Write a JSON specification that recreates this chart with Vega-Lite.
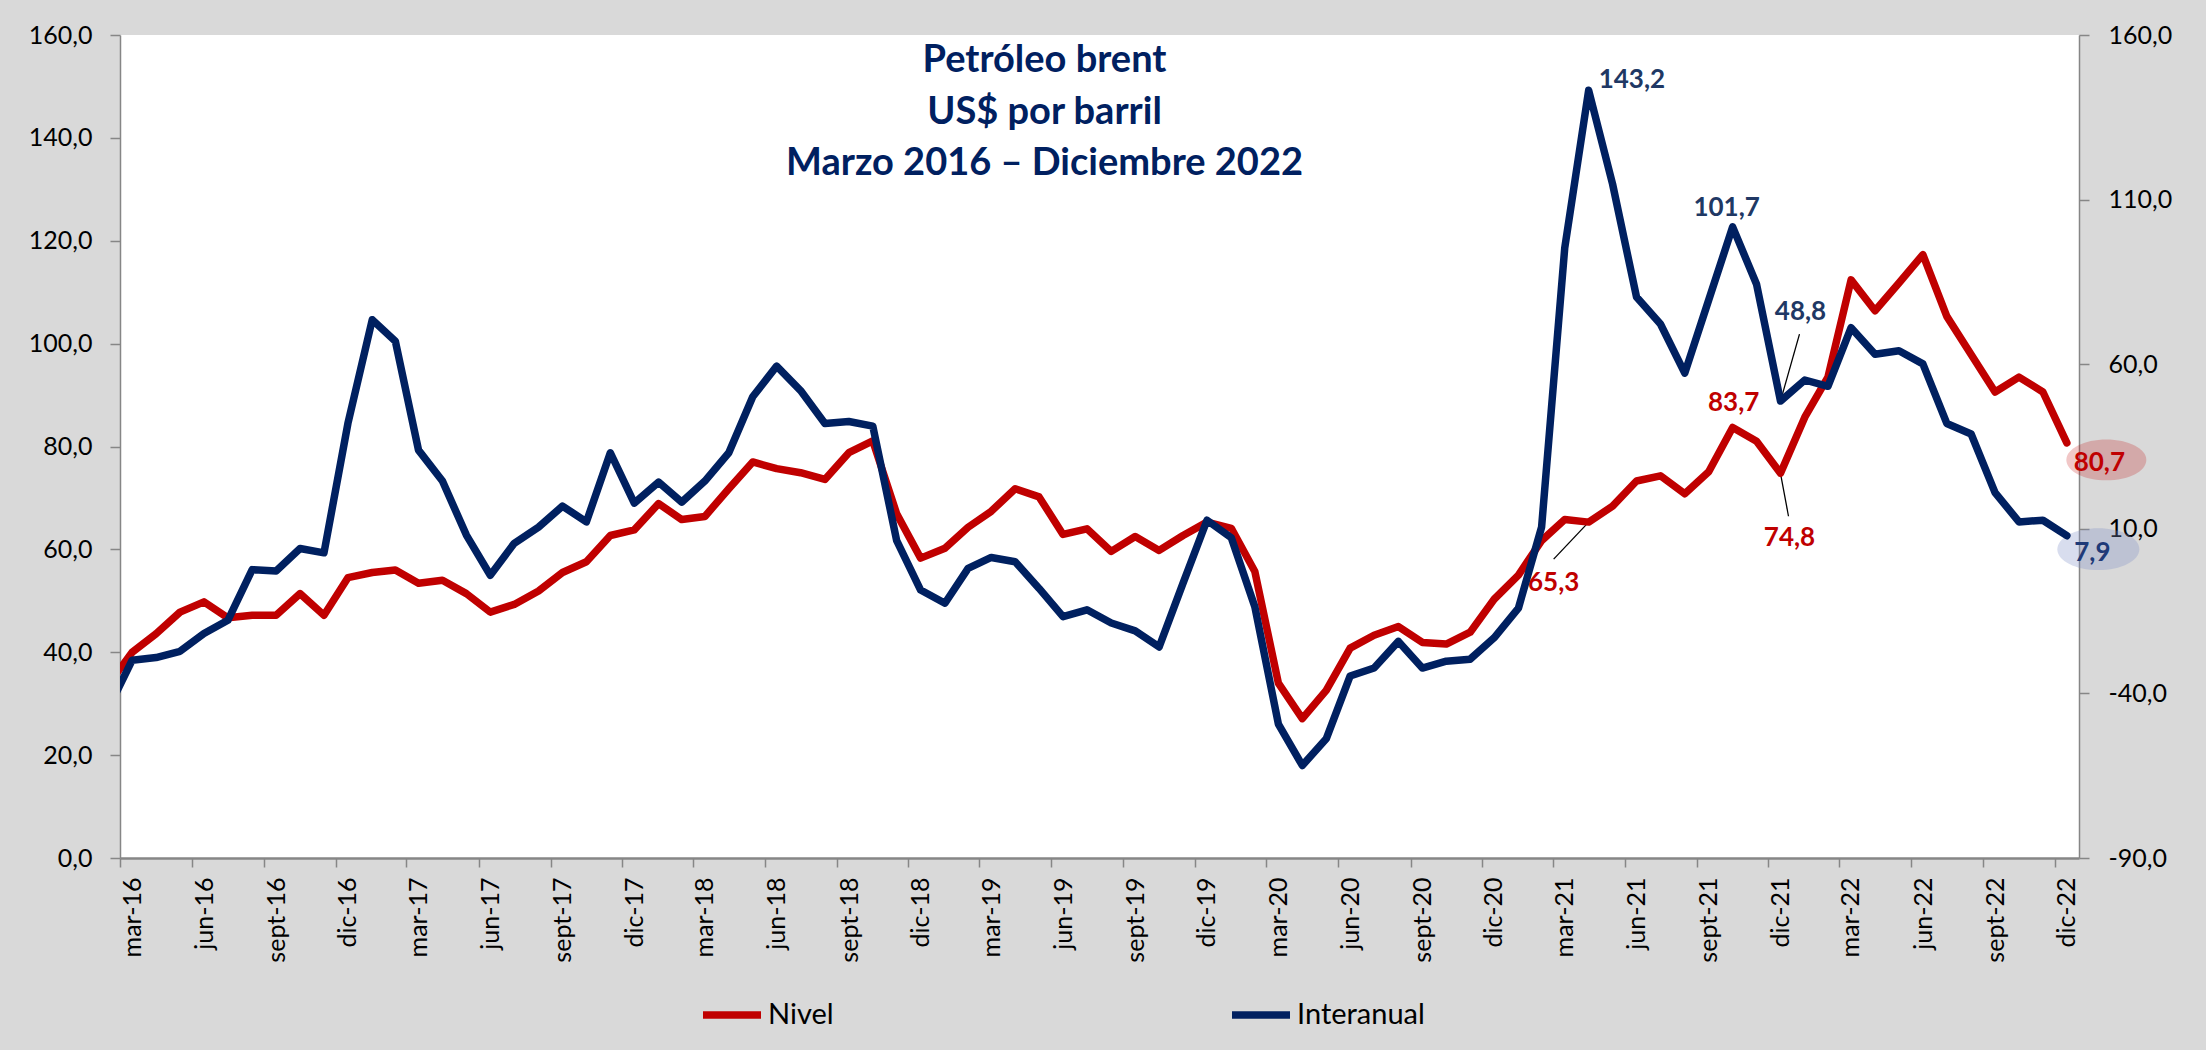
{
  "$schema": "https://vega.github.io/schema/vega-lite/v6.json",
  "width": 1959,
  "height": 823,
  "autosize": {"type": "none"},
  "padding": {"left": 120, "top": 35, "right": 127, "bottom": 192},
  "background": "#d9d9d9",
  "config": {
    "font": "Lato",
    "view": {"fill": "white", "stroke": null},
    "locale": {"number": {"decimal": ",", "thousands": ".", "grouping": [3], "currency": ["", ""], "minus": "-"}},
    "axis": {"labelFont": "Lato", "labelFontSize": 25, "labelColor": "black", "domainColor": "#868686", "tickColor": "#868686", "grid": false}
  },
  "title": {
    "text": ["Petróleo brent", "US$ por barril", "Marzo 2016 – Diciembre 2022"],
    "anchor": "middle", "frame": "group", "orient": "top",
    "font": "Lato", "fontSize": 38, "fontWeight": "bold", "color": "#002060",
    "lineHeight": 51.5, "offset": -160, "dx": -55, "baseline": "top"
  },
  "datasets": {
    "serie": [
      {"mes": "2016-02-01", "nivel": 33.8, "interanual": -44.5},
      {"mes": "2016-03-01", "nivel": 40.0, "interanual": -29.9},
      {"mes": "2016-04-01", "nivel": 43.6, "interanual": -29.1},
      {"mes": "2016-05-01", "nivel": 47.8, "interanual": -27.2},
      {"mes": "2016-06-01", "nivel": 49.8, "interanual": -21.8},
      {"mes": "2016-07-01", "nivel": 46.7, "interanual": -17.8},
      {"mes": "2016-08-01", "nivel": 47.2, "interanual": -2.4},
      {"mes": "2016-09-01", "nivel": 47.2, "interanual": -2.8},
      {"mes": "2016-10-01", "nivel": 51.4, "interanual": 4.0},
      {"mes": "2016-11-01", "nivel": 47.2, "interanual": 2.7},
      {"mes": "2016-12-01", "nivel": 54.5, "interanual": 42.0},
      {"mes": "2017-01-01", "nivel": 55.5, "interanual": 73.5},
      {"mes": "2017-02-01", "nivel": 56.0, "interanual": 67.0},
      {"mes": "2017-03-01", "nivel": 53.4, "interanual": 33.9},
      {"mes": "2017-04-01", "nivel": 54.0, "interanual": 24.5},
      {"mes": "2017-05-01", "nivel": 51.4, "interanual": 8.1},
      {"mes": "2017-06-01", "nivel": 47.8, "interanual": -4.1},
      {"mes": "2017-07-01", "nivel": 49.3, "interanual": 5.6},
      {"mes": "2017-08-01", "nivel": 51.9, "interanual": 10.5},
      {"mes": "2017-09-01", "nivel": 55.5, "interanual": 16.9},
      {"mes": "2017-10-01", "nivel": 57.6, "interanual": 12.1},
      {"mes": "2017-11-01", "nivel": 62.7, "interanual": 33.1},
      {"mes": "2017-12-01", "nivel": 63.8, "interanual": 17.8},
      {"mes": "2018-01-01", "nivel": 68.9, "interanual": 24.2},
      {"mes": "2018-02-01", "nivel": 65.8, "interanual": 18.1},
      {"mes": "2018-03-01", "nivel": 66.4, "interanual": 24.5},
      {"mes": "2018-04-01", "nivel": 71.8, "interanual": 33.1},
      {"mes": "2018-05-01", "nivel": 77.0, "interanual": 50.1},
      {"mes": "2018-06-01", "nivel": 75.7, "interanual": 59.4},
      {"mes": "2018-07-01", "nivel": 74.9, "interanual": 52.0},
      {"mes": "2018-08-01", "nivel": 73.6, "interanual": 42.0},
      {"mes": "2018-09-01", "nivel": 78.8, "interanual": 42.6},
      {"mes": "2018-10-01", "nivel": 81.1, "interanual": 41.2},
      {"mes": "2018-11-01", "nivel": 66.9, "interanual": 6.4},
      {"mes": "2018-12-01", "nivel": 58.3, "interanual": -8.6},
      {"mes": "2019-01-01", "nivel": 60.2, "interanual": -12.6},
      {"mes": "2019-02-01", "nivel": 64.3, "interanual": -2.0},
      {"mes": "2019-03-01", "nivel": 67.4, "interanual": 1.3},
      {"mes": "2019-04-01", "nivel": 71.8, "interanual": 0.0},
      {"mes": "2019-05-01", "nivel": 70.2, "interanual": -8.1},
      {"mes": "2019-06-01", "nivel": 62.9, "interanual": -16.7},
      {"mes": "2019-07-01", "nivel": 64.0, "interanual": -14.6},
      {"mes": "2019-08-01", "nivel": 59.6, "interanual": -18.6},
      {"mes": "2019-09-01", "nivel": 62.5, "interanual": -21.0},
      {"mes": "2019-10-01", "nivel": 59.8, "interanual": -25.9},
      {"mes": "2019-11-01", "nivel": 62.7, "interanual": -6.5},
      {"mes": "2019-12-01", "nivel": 65.3, "interanual": 12.6},
      {"mes": "2020-01-01", "nivel": 64.1, "interanual": 7.3},
      {"mes": "2020-02-01", "nivel": 55.7, "interanual": -13.7},
      {"mes": "2020-03-01", "nivel": 34.0, "interanual": -49.3},
      {"mes": "2020-04-01", "nivel": 27.1, "interanual": -61.9},
      {"mes": "2020-05-01", "nivel": 32.6, "interanual": -53.8},
      {"mes": "2020-06-01", "nivel": 40.8, "interanual": -34.7},
      {"mes": "2020-07-01", "nivel": 43.3, "interanual": -32.3},
      {"mes": "2020-08-01", "nivel": 45.0, "interanual": -24.2},
      {"mes": "2020-09-01", "nivel": 41.9, "interanual": -32.3},
      {"mes": "2020-10-01", "nivel": 41.6, "interanual": -30.2},
      {"mes": "2020-11-01", "nivel": 43.9, "interanual": -29.6},
      {"mes": "2020-12-01", "nivel": 50.3, "interanual": -23.1},
      {"mes": "2021-01-01", "nivel": 55.0, "interanual": -14.1},
      {"mes": "2021-02-01", "nivel": 61.7, "interanual": 10.5},
      {"mes": "2021-03-01", "nivel": 65.8, "interanual": 95.3},
      {"mes": "2021-04-01", "nivel": 65.3, "interanual": 143.2},
      {"mes": "2021-05-01", "nivel": 68.4, "interanual": 114.7},
      {"mes": "2021-06-01", "nivel": 73.3, "interanual": 80.4},
      {"mes": "2021-07-01", "nivel": 74.3, "interanual": 72.2},
      {"mes": "2021-08-01", "nivel": 70.8, "interanual": 57.3},
      {"mes": "2021-09-01", "nivel": 75.1, "interanual": 79.5},
      {"mes": "2021-10-01", "nivel": 83.7, "interanual": 101.7},
      {"mes": "2021-11-01", "nivel": 81.0, "interanual": 84.3},
      {"mes": "2021-12-01", "nivel": 74.8, "interanual": 48.8},
      {"mes": "2022-01-01", "nivel": 85.7, "interanual": 55.2},
      {"mes": "2022-02-01", "nivel": 93.5, "interanual": 53.3},
      {"mes": "2022-03-01", "nivel": 112.4, "interanual": 71.1},
      {"mes": "2022-04-01", "nivel": 106.4, "interanual": 63.0},
      {"mes": "2022-05-01", "nivel": 111.8, "interanual": 64.1},
      {"mes": "2022-06-01", "nivel": 117.3, "interanual": 60.1},
      {"mes": "2022-07-01", "nivel": 105.3, "interanual": 42.0},
      {"mes": "2022-08-01", "nivel": 97.9, "interanual": 38.8},
      {"mes": "2022-09-01", "nivel": 90.6, "interanual": 21.0},
      {"mes": "2022-10-01", "nivel": 93.5, "interanual": 12.1},
      {"mes": "2022-11-01", "nivel": 90.6, "interanual": 12.6},
      {"mes": "2022-12-01", "nivel": 80.7, "interanual": 7.9}
    ],
    "notas": [
      {"mes": "2021-04-01", "nivel": 65.3, "texto": "65,3"},
      {"mes": "2021-10-01", "nivel": 83.7, "texto": "83,7"},
      {"mes": "2021-12-01", "nivel": 74.8, "texto": "74,8"},
      {"mes": "2022-12-01", "nivel": 80.7, "texto": "80,7"},
      {"mes": "2021-04-01", "interanual": 143.2, "texto": "143,2"},
      {"mes": "2021-10-01", "interanual": 101.7, "texto": "101,7"},
      {"mes": "2021-12-01", "interanual": 48.8, "texto": "48,8"},
      {"mes": "2022-12-01", "interanual": 7.9, "texto": "7,9"}
    ]
  },
  "data": {"name": "serie"},
  "encoding": {
    "x": {
      "field": "mes", "type": "temporal", "timeUnit": "utcyearmonth", "bandPosition": 0.5,
      "scale": {"domain": [{"year": 2016, "month": 3, "date": 1, "utc": true}, {"year": 2023, "month": 1, "date": 1, "utc": true}]},
      "axis": {
        "title": null,
        "values": [
          {"year": 2016, "month": 3, "date": 1, "utc": true}, {"year": 2016, "month": 6, "date": 1, "utc": true}, {"year": 2016, "month": 9, "date": 1, "utc": true}, {"year": 2016, "month": 12, "date": 1, "utc": true},
          {"year": 2017, "month": 3, "date": 1, "utc": true}, {"year": 2017, "month": 6, "date": 1, "utc": true}, {"year": 2017, "month": 9, "date": 1, "utc": true}, {"year": 2017, "month": 12, "date": 1, "utc": true},
          {"year": 2018, "month": 3, "date": 1, "utc": true}, {"year": 2018, "month": 6, "date": 1, "utc": true}, {"year": 2018, "month": 9, "date": 1, "utc": true}, {"year": 2018, "month": 12, "date": 1, "utc": true},
          {"year": 2019, "month": 3, "date": 1, "utc": true}, {"year": 2019, "month": 6, "date": 1, "utc": true}, {"year": 2019, "month": 9, "date": 1, "utc": true}, {"year": 2019, "month": 12, "date": 1, "utc": true},
          {"year": 2020, "month": 3, "date": 1, "utc": true}, {"year": 2020, "month": 6, "date": 1, "utc": true}, {"year": 2020, "month": 9, "date": 1, "utc": true}, {"year": 2020, "month": 12, "date": 1, "utc": true},
          {"year": 2021, "month": 3, "date": 1, "utc": true}, {"year": 2021, "month": 6, "date": 1, "utc": true}, {"year": 2021, "month": 9, "date": 1, "utc": true}, {"year": 2021, "month": 12, "date": 1, "utc": true},
          {"year": 2022, "month": 3, "date": 1, "utc": true}, {"year": 2022, "month": 6, "date": 1, "utc": true}, {"year": 2022, "month": 9, "date": 1, "utc": true}, {"year": 2022, "month": 12, "date": 1, "utc": true}
        ],
        "labelExpr": "['ene','feb','mar','abr','may','jun','jul','ago','sept','oct','nov','dic'][utcmonth(datum.value)] + '-' + utcFormat(datum.value, '%y')",
        "labelAngle": -90, "labelAlign": "right", "labelBaseline": "top",
        "labelPadding": 10, "labelFlush": false, "labelOverlap": false, "labelBound": false,
        "tickSize": 9, "tickWidth": 1.5, "domainWidth": 2.5, "grid": false
      }
    }
  },
  "layer": [
    {
      "encoding": {
        "y": {
          "field": "nivel", "type": "quantitative",
          "scale": {"domain": [0, 160], "nice": false, "zero": false},
          "axis": {"orient": "left", "title": null, "values": [0, 20, 40, 60, 80, 100, 120, 140, 160], "format": ".1f", "tickSize": 10, "tickWidth": 1.5, "domainWidth": 1.5, "labelPadding": 18, "grid": false}
        }
      },
      "layer": [
        {
          "data": {"name": "notas"}, "transform": [{"filter": "datum.texto == '80,7'"}],
          "mark": {"type": "point", "shape": "M-1,0A1,0.51,0,1,0,1,0A1,0.51,0,1,0,-1,0Z", "size": 6400, "filled": true, "fill": "#c00000", "fillOpacity": 0.22, "strokeWidth": 0, "opacity": 1, "xOffset": 39.5, "yOffset": 17}
        },
        {
          "data": {"name": "notas"}, "transform": [{"filter": "datum.texto == '74,8'"}],
          "mark": {"type": "point", "shape": "M0,0L0.08,0.43", "size": 40000, "filled": false, "stroke": "black", "strokeWidth": 1.3, "opacity": 1}
        },
        {
          "data": {"name": "notas"}, "transform": [{"filter": "datum.texto == '65,3'"}],
          "mark": {"type": "point", "shape": "M0,0L-0.35,0.37", "size": 40000, "filled": false, "stroke": "black", "strokeWidth": 1.3, "opacity": 1}
        },
        {
          "mark": {"type": "line", "strokeWidth": 7.5, "clip": true, "strokeJoin": "round", "strokeCap": "round"},
          "encoding": {
            "color": {
              "datum": "Nivel", "type": "nominal",
              "scale": {"domain": ["Nivel", "Interanual"], "range": ["#c00000", "#002060"]},
              "legend": {
                "title": null, "orient": "none", "legendX": 579, "legendY": 947, "direction": "horizontal",
                "symbolType": "stroke", "symbolSize": 3364, "symbolStrokeWidth": 7.5,
                "labelFont": "Lato", "labelFontSize": 29, "labelColor": "black", "labelOffset": 3, "columnPadding": 383
              }
            }
          }
        },
        {
          "data": {"name": "notas"}, "transform": [{"filter": "datum.texto == '83,7'"}],
          "mark": {"type": "text", "font": "Lato", "fontWeight": "bold", "fontSize": 26, "color": "#c00000", "align": "center", "baseline": "middle", "dx": 1, "dy": -24},
          "encoding": {"text": {"field": "texto"}}
        },
        {
          "data": {"name": "notas"}, "transform": [{"filter": "datum.texto == '74,8'"}],
          "mark": {"type": "text", "font": "Lato", "fontWeight": "bold", "fontSize": 26, "color": "#c00000", "align": "center", "baseline": "middle", "dx": 9, "dy": 65},
          "encoding": {"text": {"field": "texto"}}
        },
        {
          "data": {"name": "notas"}, "transform": [{"filter": "datum.texto == '65,3'"}],
          "mark": {"type": "text", "font": "Lato", "fontWeight": "bold", "fontSize": 26, "color": "#c00000", "align": "center", "baseline": "middle", "dx": -35, "dy": 61},
          "encoding": {"text": {"field": "texto"}}
        },
        {
          "data": {"name": "notas"}, "transform": [{"filter": "datum.texto == '80,7'"}],
          "mark": {"type": "text", "font": "Lato", "fontWeight": "bold", "fontSize": 26, "color": "#c00000", "align": "center", "baseline": "middle", "dx": 32.5, "dy": 20},
          "encoding": {"text": {"field": "texto"}}
        }
      ]
    },
    {
      "encoding": {
        "y": {
          "field": "interanual", "type": "quantitative",
          "scale": {"domain": [-90, 160], "nice": false, "zero": false},
          "axis": {"orient": "right", "title": null, "values": [-90, -40, 10, 60, 110, 160], "format": ".1f", "tickSize": 10, "tickWidth": 1.5, "domainWidth": 1.5, "labelPadding": 19, "grid": false}
        }
      },
      "layer": [
        {
          "data": {"name": "notas"}, "transform": [{"filter": "datum.texto == '7,9'"}],
          "mark": {"type": "point", "shape": "M-1,0A1,0.51,0,1,0,1,0A1,0.51,0,1,0,-1,0Z", "size": 6724, "filled": true, "fill": "#7f8fc8", "fillOpacity": 0.3, "strokeWidth": 0, "opacity": 1, "xOffset": 31.5, "yOffset": 13.5}
        },
        {
          "data": {"name": "notas"}, "transform": [{"filter": "datum.texto == '48,8'"}],
          "mark": {"type": "point", "shape": "M0,0L0.19,-0.67", "size": 40000, "filled": false, "stroke": "black", "strokeWidth": 1.3, "opacity": 1}
        },
        {
          "mark": {"type": "line", "strokeWidth": 7.5, "clip": true, "strokeJoin": "round", "strokeCap": "round"},
          "encoding": {"color": {"datum": "Interanual", "type": "nominal"}}
        },
        {
          "data": {"name": "notas"}, "transform": [{"filter": "datum.texto == '143,2'"}],
          "mark": {"type": "text", "font": "Lato", "fontWeight": "bold", "fontSize": 26, "color": "#203864", "align": "left", "baseline": "middle", "dx": 10, "dy": -10},
          "encoding": {"text": {"field": "texto"}}
        },
        {
          "data": {"name": "notas"}, "transform": [{"filter": "datum.texto == '101,7'"}],
          "mark": {"type": "text", "font": "Lato", "fontWeight": "bold", "fontSize": 26, "color": "#203864", "align": "center", "baseline": "middle", "dx": -6, "dy": -19},
          "encoding": {"text": {"field": "texto"}}
        },
        {
          "data": {"name": "notas"}, "transform": [{"filter": "datum.texto == '48,8'"}],
          "mark": {"type": "text", "font": "Lato", "fontWeight": "bold", "fontSize": 26, "color": "#203864", "align": "center", "baseline": "middle", "dx": 20, "dy": -89},
          "encoding": {"text": {"field": "texto"}}
        },
        {
          "data": {"name": "notas"}, "transform": [{"filter": "datum.texto == '7,9'"}],
          "mark": {"type": "text", "font": "Lato", "fontWeight": "bold", "fontSize": 26, "color": "#1f3a78", "align": "center", "baseline": "middle", "dx": 25.5, "dy": 17},
          "encoding": {"text": {"field": "texto"}}
        }
      ]
    }
  ],
  "resolve": {"scale": {"y": "independent"}, "axis": {"y": "independent"}}
}
